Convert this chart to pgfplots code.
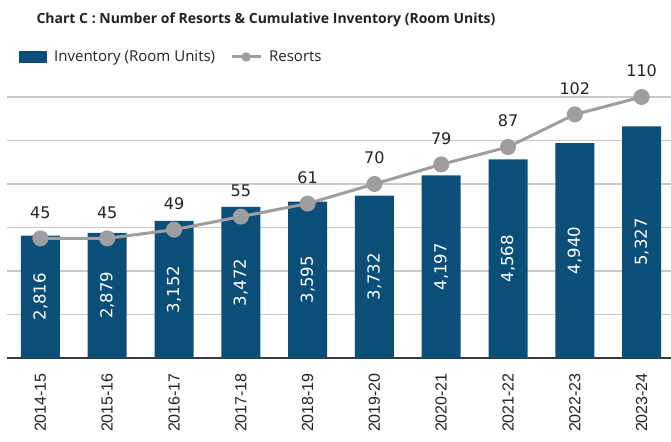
\documentclass[border=0pt]{standalone}
\usepackage{fontspec}
\setmainfont{Open Sans}
\newfontfamily\dejavu{DejaVu Sans}
\newfontfamily\arial{Liberation Sans}
\usepackage{pgfplots}
\pgfplotsset{compat=1.18}
\definecolor{barblue}{HTML}{0B4F79}
\definecolor{linegray}{HTML}{9E9EA0}
\definecolor{gridgray}{HTML}{C8C8C8}
\definecolor{axisgray}{HTML}{3A3A3A}
\definecolor{txt}{HTML}{222222}
\begin{document}
\begin{tikzpicture}
\useasboundingbox (0,0) rectangle (671bp,442bp);
\node[font=\bfseries\fontsize{14bp}{17bp}\selectfont, text=txt] at (266bp,422bp) {Chart C : Number of Resorts \& Cumulative Inventory (Room Units)};
\begin{axis}[
  at={(7bp,84bp)}, anchor=south west,
  scale only axis, width=664bp, height=261bp,
  xmin=-0.5, xmax=9.44, ymin=0, ymax=6000,
  axis x line*=bottom, axis y line*=left,
  y axis line style={draw=none},
  x axis line style={draw=axisgray, line width=1.5bp},
  ytick={1000,2000,3000,4000,5000,6000}, yticklabels={},
  ymajorgrids, grid style={draw=gridgray, line width=1.2bp},
  major tick length=0pt,
  xtick=data,
  xticklabels={2014-15,2015-16,2016-17,2017-18,2018-19,2019-20,2020-21,2021-22,2022-23,2023-24},
  xticklabel style={rotate=90, anchor=east, inner sep=0pt, font=\arial\fontsize{16bp}{18bp}\selectfont, text=txt},
  xticklabel shift=15bp,
  clip=false,
  /pgf/number format/assume math mode=true,
  /pgf/number format/1000 sep={,},
  legend columns=2,
  legend style={at={(12bp,301bp)}, anchor=west, draw=none, fill=none, inner sep=0pt,
    nodes={inner sep=0pt, font=\fontsize{15bp}{17bp}\selectfont, text=txt},
    /tikz/every odd column/.append style={column sep=7bp},
    /tikz/every even column/.append style={column sep=15bp}},
  legend cell align=left,
]
\addplot[ybar, bar width=39bp, fill=barblue, draw=none,
  legend image code/.code={\fill[barblue] (0bp,-6bp) rectangle (28bp,6bp);},
  nodes near coords,
  visualization depends on={y \as \rawy},
  every node near coord/.append style={yshift={-\rawy*0.02175*1.00375}, rotate=90, anchor=center, text=white, font=\dejavu\fontsize{16.5bp}{18bp}\selectfont},
] coordinates {(0,2816) (1,2879) (2,3152) (3,3472) (4,3595) (5,3732) (6,4197) (7,4568) (8,4940) (9,5327)};
\addlegendentry{Inventory (Room Units)}
\addlegendimage{legend image code/.code={\draw[linegray, line width=3bp] (0bp,0bp) -- (29bp,0bp); \fill[linegray] (14.5bp,0bp) circle (4.5bp);}}
\addlegendentry{Resorts}
\end{axis}
\begin{axis}[
  at={(7bp,84bp)}, anchor=south west,
  scale only axis, width=664bp, height=261bp,
  xmin=-0.5, xmax=9.44, ymin=-10, ymax=110,
  hide axis, clip=false,
  /pgf/number format/assume math mode=true,
]
\addplot[linegray, line width=3bp, mark=*, mark size=6.5bp, mark options={fill=linegray, draw=none},
  nodes near coords,
  every node near coord/.append style={anchor=center, yshift=26bp, text=txt, font=\dejavu\fontsize{16bp}{18bp}\selectfont},
] coordinates {(0,45) (1,45) (2,49) (3,55) (4,61) (5,70) (6,79) (7,87) (8,102) (9,110)};
\end{axis}
\end{tikzpicture}
\end{document}
